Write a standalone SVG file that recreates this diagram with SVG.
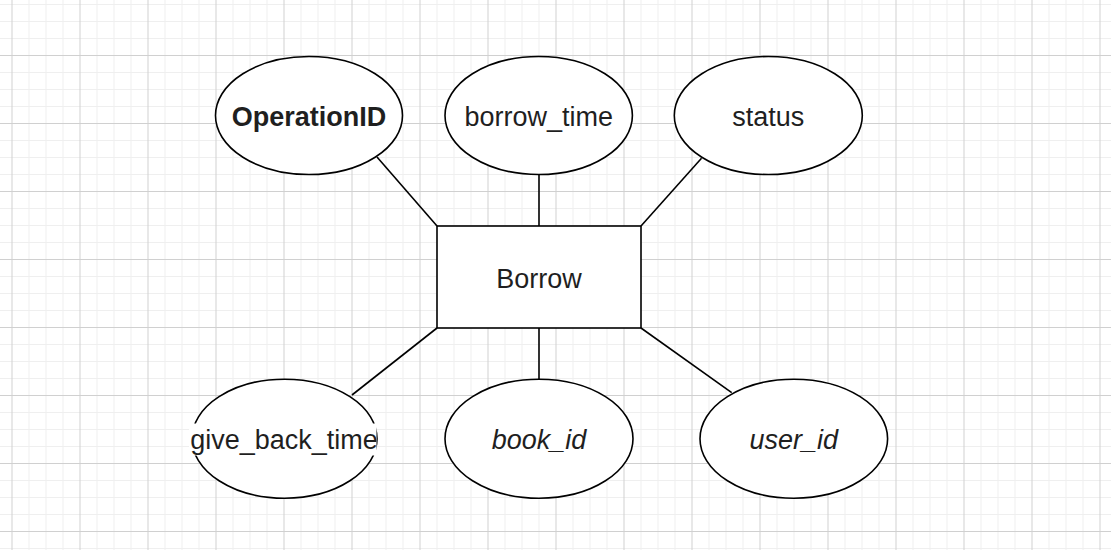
<svg xmlns="http://www.w3.org/2000/svg" width="1111" height="550" viewBox="0 0 1111 550">
<style>
.node{fill:#ffffff;stroke:#000000;stroke-width:1.6}
.edge{stroke:#000000;stroke-width:1.6;fill:none}
.lbl{font-family:"Liberation Sans",Arial,sans-serif;font-size:27px;fill:#1f1f1f;text-anchor:middle}
.b{font-weight:bold}
.i{font-style:italic}
</style>
<defs>
<pattern id="grid" x="11.5" y="55" width="68" height="68" patternUnits="userSpaceOnUse">
<path d="M17.5 0V68M34.5 0V68M51.5 0V68M0 17.5H68M0 34.5H68M0 51.5H68" stroke="#efefef" stroke-width="1" fill="none"/>
<path d="M0.5 0V68M0 0.5H68" stroke="#d0d0d0" stroke-width="1" fill="none"/>
</pattern>
<clipPath id="clipGive"><rect x="186" y="423" width="190.5" height="33"/></clipPath>
</defs>
<rect width="1111" height="550" fill="#ffffff"/>
<rect width="1111" height="550" fill="url(#grid)"/>
<g id="connectors">
<line class="edge" x1="377" y1="157" x2="437" y2="226"/>
<line class="edge" x1="539" y1="174.5" x2="539" y2="226"/>
<line class="edge" x1="701.5" y1="158.3" x2="641" y2="226"/>
<line class="edge" x1="437" y1="328" x2="352" y2="395"/>
<line class="edge" x1="539" y1="328" x2="539" y2="379"/>
<line class="edge" x1="641" y1="328" x2="731.7" y2="392.7"/>
</g>
<g id="borrow">
<rect class="node" x="437" y="226" width="204" height="102"/>
<text class="lbl" x="539" y="287.5">Borrow</text>
</g>
<g id="operationid">
<ellipse class="node" cx="309" cy="115.5" rx="93.5" ry="59"/>
<text class="lbl b" x="309" y="126">OperationID</text>
</g>
<g id="borrow_time">
<ellipse class="node" cx="538.7" cy="115.5" rx="93.7" ry="59"/>
<text class="lbl" x="538.7" y="126">borrow_time</text>
</g>
<g id="status">
<ellipse class="node" cx="768.3" cy="115.5" rx="94" ry="59"/>
<text class="lbl" x="768.3" y="126">status</text>
</g>
<g id="give_back_time">
<ellipse class="node" cx="284.5" cy="438.7" rx="92.5" ry="59.5"/>
<rect x="189" y="423.5" width="187.5" height="32" fill="#ffffff"/>
<text class="lbl" x="284" y="449.3" clip-path="url(#clipGive)">give_back_time</text>
</g>
<g id="book_id">
<ellipse class="node" cx="539" cy="438.7" rx="94" ry="59.5"/>
<text class="lbl i" x="539" y="449.3">book_id</text>
</g>
<g id="user_id">
<ellipse class="node" cx="793.8" cy="438.7" rx="93.8" ry="59.5"/>
<text class="lbl i" x="793.8" y="449.3">user_id</text>
</g>
</svg>
